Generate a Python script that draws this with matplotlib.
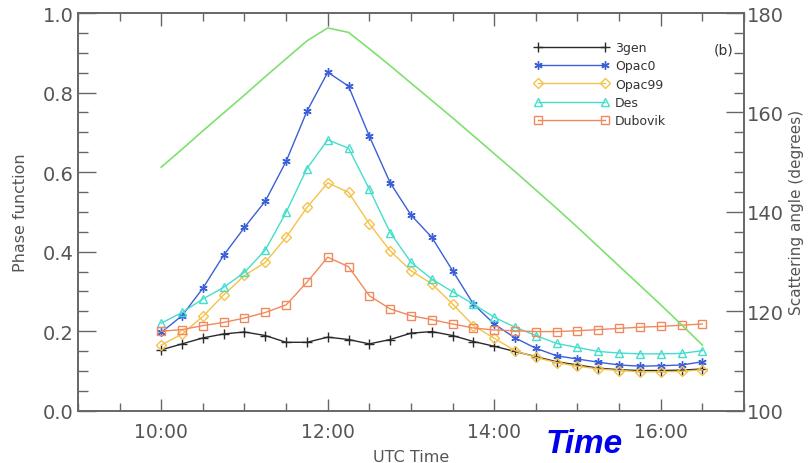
import numpy as np
import matplotlib.pyplot as plt
from matplotlib.ticker import MultipleLocator, FixedLocator

# --- DATA (15-minute steps, 10:00 -> 16:30 UTC) ---
hours = [10 + 0.25 * i for i in range(27)]

gen3 = [0.153, 0.168, 0.183, 0.193, 0.198, 0.189, 0.172, 0.172, 0.185, 0.179,
        0.168, 0.179, 0.195, 0.199, 0.189, 0.174, 0.162, 0.149, 0.136, 0.123,
        0.115, 0.107, 0.103, 0.101, 0.101, 0.102, 0.105]
opac0 = [0.197, 0.239, 0.308, 0.391, 0.461, 0.527, 0.627, 0.753, 0.851, 0.816,
         0.690, 0.573, 0.492, 0.436, 0.352, 0.268, 0.218, 0.183, 0.157, 0.138,
         0.130, 0.122, 0.115, 0.112, 0.113, 0.115, 0.123]
opac99 = [0.165, 0.193, 0.237, 0.291, 0.340, 0.373, 0.436, 0.511, 0.573, 0.549,
          0.470, 0.402, 0.352, 0.319, 0.268, 0.214, 0.182, 0.151, 0.134, 0.121,
          0.112, 0.105, 0.101, 0.098, 0.098, 0.099, 0.103]
des = [0.220, 0.247, 0.281, 0.310, 0.348, 0.404, 0.499, 0.609, 0.681, 0.660,
       0.557, 0.448, 0.373, 0.331, 0.299, 0.268, 0.235, 0.210, 0.189, 0.169,
       0.159, 0.149, 0.145, 0.143, 0.143, 0.144, 0.151]
dubovik = [0.200, 0.204, 0.214, 0.222, 0.233, 0.247, 0.266, 0.323, 0.386, 0.362,
           0.289, 0.256, 0.239, 0.229, 0.218, 0.208, 0.203, 0.201, 0.199, 0.199,
           0.201, 0.204, 0.207, 0.210, 0.212, 0.215, 0.218]
scat_angle = [149.0, 152.6, 156.3, 159.9, 163.5, 167.2, 170.8, 174.4, 177.0, 176.1,
              172.8, 169.4, 165.9, 162.4, 158.9, 155.3, 151.7, 148.1, 144.4, 140.7,
              136.9, 133.0, 129.1, 125.2, 121.3, 117.3, 113.2]

x_ticks = [10, 12, 14, 16]
x_labels = ["10:00", "12:00", "14:00", "16:00"]

TXT = "#555555"
plt.rcParams['font.family'] = ['DejaVu Sans']

fig = plt.figure(figsize=(8.1, 4.64), dpi=100)
ax = fig.add_axes([0.0963, 0.1127, 0.8222, 0.8571])
ax2 = ax.twinx()

# green scattering angle on the right axis
ax2.plot(hours, scat_angle, color="#7fe070", lw=1.2)
ax2.set_ylim(100, 180)

series = [
    ("3gen", gen3, "#2a2a2a", "+", 7),
    ("Opac0", opac0, "#3a5fd8", (6, 2, 0), 6),
    ("Opac99", opac99, "#f5c24a", "D", 5),
    ("Des", des, "#44dfcc", "^", 6),
    ("Dubovik", dubovik, "#f08a5e", "s", 6),
]
for name, vals, col, mk, ms in series:
    ax.plot(hours, vals, color=col, lw=1.0, marker=mk, ms=ms, mfc="none",
            mec=col, mew=1.0, label=name)

ax.set_xlim(9, 17)
ax.set_ylim(0, 1.0)
ax.xaxis.set_major_locator(FixedLocator(x_ticks))
ax.set_xticklabels(x_labels)
ax.xaxis.set_minor_locator(MultipleLocator(0.5))
ax.yaxis.set_major_locator(MultipleLocator(0.2))
ax.yaxis.set_minor_locator(MultipleLocator(0.05))
ax2.yaxis.set_major_locator(MultipleLocator(20))
ax2.yaxis.set_minor_locator(MultipleLocator(4))

ax.tick_params(axis="x", which="major", direction="in", length=9, width=1,
               top=True, colors="#666666", labelcolor=TXT, labelsize=13.5, pad=8)
ax.tick_params(axis="x", which="minor", direction="in", length=6, width=1,
               top=True, colors="#666666")
ax.tick_params(axis="y", which="major", direction="in", length=13, width=1,
               colors="#666666", labelcolor=TXT, labelsize=14, pad=3)
ax.tick_params(axis="y", which="minor", direction="in", length=7, width=1,
               colors="#666666")
ax2.tick_params(axis="y", which="major", direction="in", length=13, width=1,
                colors="#666666", labelcolor=TXT, labelsize=14, pad=2)
ax2.tick_params(axis="y", which="minor", direction="in", length=7, width=1,
                colors="#666666")
for a in (ax, ax2):
    for s in a.spines.values():
        s.set_color("#666666")
        s.set_linewidth(1.2)

ax.set_ylabel("Phase function", color=TXT, fontsize=11.5, labelpad=11)
ax2.set_ylabel("Scattering angle (degrees)", color=TXT, fontsize=11, labelpad=4)
ax.set_xlabel("UTC Time", color=TXT, fontsize=11.5, labelpad=6)

leg = ax.legend(loc="upper left", bbox_to_anchor=(0.675, 0.945), frameon=False,
                numpoints=2, handlelength=6.0, handletextpad=0.5, fontsize=9,
                labelspacing=0.42, borderpad=0)
for t in leg.get_texts():
    t.set_color("#333333")

ax.text(0.985, 0.909, "(b)", transform=ax.transAxes, ha="right", va="center",
        color="#333333", fontsize=10)

fig.text(0.721, 0.041, "Time", color="#0000ee", fontsize=24, fontweight="bold",
         fontstyle="italic", family=["Liberation Sans", "DejaVu Sans"],
         ha="center", va="center")

fig.savefig("out.png", dpi=100)
